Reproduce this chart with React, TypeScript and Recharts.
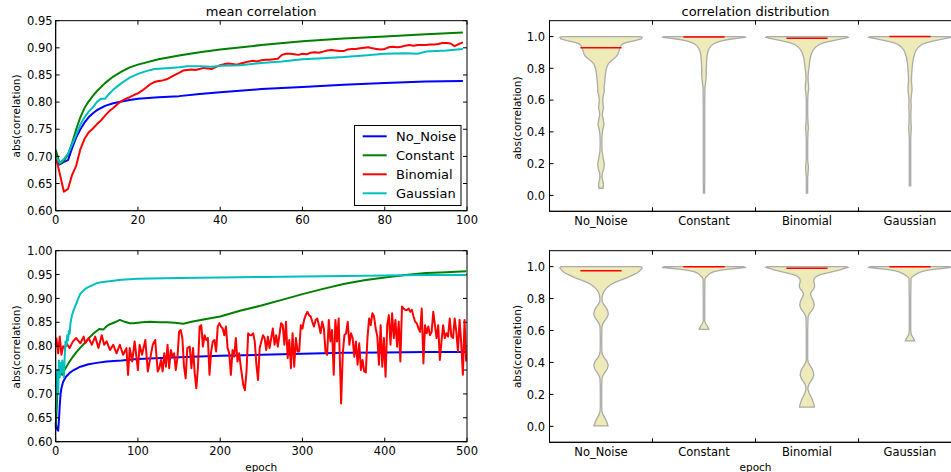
import React from 'react';
import { LineChart, Line, XAxis, YAxis, ScatterChart, Scatter } from 'recharts';

const FONT = '"DejaVu Sans", "Liberation Sans", sans-serif';

type P = [number, number];

const categories = ['No_Noise', 'Constant', 'Binomial', 'Gaussian'];
const colors = ['#0000ff', '#008000', '#ff0000', '#00bfbf'];

const topEpochTicks = [0, 20, 40, 60, 80, 100];
const topCorrTicks = [0.6, 0.65, 0.7, 0.75, 0.8, 0.85, 0.9, 0.95];
const botEpochTicks = [0, 100, 200, 300, 400, 500];
const botCorrTicks = [0.6, 0.65, 0.7, 0.75, 0.8, 0.85, 0.9, 0.95, 1.0];
const violinTicks = [0, 0.2, 0.4, 0.6, 0.8, 1.0];
const violinCatTicks = [1, 1.5, 2, 2.5, 3, 3.5, 4];
const violinMidTicks = [1.5, 2.5, 3.5];

// ---------- top-left: mean correlation, 100 epochs ----------
const topNoNoise: P[] = [[0,0.695],[1,0.685],[2,0.690],[3,0.693],[4,0.715],[5,0.735],[6,0.75],[7,0.762],[8,0.772],[9,0.779],[10,0.785],[12,0.793],[14,0.798],[16,0.801],[18,0.804],[20,0.806],[25,0.809],[30,0.811],[35,0.815],[40,0.818],[50,0.824],[60,0.828],[70,0.832],[80,0.835],[90,0.838],[99,0.839]];
const topConstant: P[] = [[0,0.712],[1,0.686],[2,0.692],[3,0.703],[4,0.725],[5,0.75],[6,0.772],[7,0.789],[8,0.801],[9,0.811],[10,0.82],[12,0.835],[14,0.847],[16,0.856],[18,0.864],[20,0.869],[25,0.879],[30,0.886],[35,0.892],[40,0.897],[50,0.905],[60,0.912],[70,0.917],[80,0.921],[90,0.925],[99,0.928]];
const topBinomial: P[] = [[0,0.70],[1,0.668],[2,0.635],[3,0.64],[4,0.666],[5,0.683],[6,0.713],[7,0.732],[8,0.744],[9,0.751],[10,0.759],[11,0.766],[12,0.775],[13,0.783],[14,0.789],[15,0.796],[16,0.802],[17,0.806],[18,0.809],[19,0.813],[20,0.816],[21,0.821],[22,0.827],[23,0.833],[24,0.837],[25,0.839],[26,0.84],[27,0.842],[28,0.846],[29,0.850],[30,0.854],[31,0.858],[32,0.859],[33,0.860],[34,0.859],[35,0.861],[36,0.863],[37,0.862],[38,0.861],[39,0.865],[40,0.868],[41,0.870],[42,0.871],[43,0.870],[44,0.869],[45,0.871],[46,0.873],[47,0.875],[48,0.876],[49,0.875],[50,0.877],[51,0.878],[52,0.878],[53,0.879],[54,0.880],[55,0.887],[56,0.889],[57,0.889],[58,0.888],[59,0.887],[60,0.889],[61,0.888],[62,0.891],[63,0.892],[64,0.891],[65,0.893],[66,0.895],[67,0.896],[68,0.895],[69,0.894],[70,0.894],[71,0.897],[72,0.898],[73,0.898],[74,0.899],[75,0.900],[76,0.901],[77,0.899],[78,0.898],[79,0.897],[80,0.898],[81,0.901],[82,0.902],[83,0.901],[84,0.902],[85,0.904],[86,0.905],[87,0.904],[88,0.905],[89,0.905],[90,0.905],[91,0.906],[92,0.906],[93,0.907],[94,0.909],[95,0.909],[96,0.908],[97,0.903],[98,0.907],[99,0.910]];
const topGaussian: P[] = [[0,0.70],[1,0.688],[2,0.695],[3,0.705],[4,0.722],[5,0.74],[6,0.758],[7,0.772],[8,0.782],[9,0.79],[10,0.80],[11,0.806],[12,0.806],[13,0.815],[14,0.823],[16,0.835],[18,0.845],[20,0.852],[22,0.857],[24,0.861],[26,0.862],[28,0.863],[30,0.864],[32,0.866],[35,0.866],[38,0.865],[40,0.867],[45,0.868],[50,0.872],[55,0.875],[60,0.879],[65,0.881],[70,0.883],[75,0.886],[80,0.889],[85,0.890],[88,0.889],[90,0.893],[95,0.895],[99,0.898]];

// ---------- bottom-left: 500 epochs ----------
const botNoNoise: P[] = [[0,0.64],[1,0.63],[2,0.625],[3,0.623],[4,0.645],[5,0.677],[6,0.70],[7,0.712],[9,0.725],[12,0.735],[17,0.744],[22,0.75],[30,0.757],[40,0.762],[50,0.765],[62,0.768],[80,0.770],[100,0.773],[150,0.777],[200,0.780],[250,0.782],[300,0.784],[350,0.786],[400,0.787],[450,0.788],[499,0.788]];
const botConstant: P[] = [[0,0.63],[1,0.66],[2,0.70],[3,0.735],[4,0.75],[5,0.74],[6,0.745],[8,0.74],[10,0.748],[13,0.757],[17,0.768],[21,0.778],[25,0.787],[30,0.797],[35,0.806],[41,0.818],[47,0.828],[53,0.836],[58,0.835],[62,0.842],[66,0.846],[72,0.85],[78,0.855],[84,0.851],[90,0.848],[95,0.848],[105,0.85],[115,0.851],[125,0.85],[135,0.85],[145,0.849],[155,0.847],[165,0.851],[183,0.857],[200,0.862],[224,0.874],[250,0.885],[275,0.897],[300,0.909],[325,0.92],[350,0.93],[375,0.938],[400,0.944],[425,0.949],[450,0.953],[475,0.955],[499,0.957]];
const botGaussian: P[] = [[0,0.66],[1,0.72],[2,0.75],[3,0.70],[4,0.77],[5,0.735],[6,0.765],[7,0.745],[8,0.77],[9,0.755],[10,0.735],[11,0.78],[12,0.81],[13,0.80],[14,0.823],[15,0.812],[16,0.832],[17,0.826],[18,0.848],[19,0.858],[20,0.866],[22,0.876],[24,0.885],[26,0.893],[28,0.902],[30,0.91],[33,0.915],[36,0.92],[40,0.924],[45,0.928],[50,0.932],[55,0.934],[60,0.935],[70,0.937],[80,0.939],[90,0.940],[100,0.941],[150,0.943],[200,0.944],[250,0.945],[300,0.946],[350,0.947],[400,0.948],[450,0.949],[499,0.949]];
const botBinomial: P[] = [[0,0.802],[1,0.816],[3,0.785],[5,0.820],[7,0.782],[9,0.80],[11,0.796],[13,0.806],[17,0.796],[21,0.810],[25,0.817],[30,0.806],[34,0.820],[36,0.806],[40,0.817],[44,0.803],[48,0.820],[52,0.796],[56,0.823],[59,0.803],[62,0.810],[66,0.792],[70,0.803],[74,0.785],[78,0.803],[82,0.782],[86,0.796],[88,0.740],[90,0.796],[93,0.768],[96,0.810],[100,0.750],[102,0.803],[105,0.782],[109,0.813],[112,0.747],[115,0.775],[118,0.803],[121,0.813],[124,0.747],[126,0.754],[128,0.771],[130,0.747],[132,0.785],[134,0.757],[136,0.803],[138,0.754],[140,0.792],[142,0.778],[144,0.785],[146,0.750],[148,0.775],[150,0.830],[152,0.834],[154,0.817],[156,0.757],[158,0.733],[160,0.796],[163,0.799],[165,0.754],[167,0.796],[169,0.743],[171,0.712],[173,0.757],[175,0.841],[177,0.844],[179,0.799],[181,0.823],[183,0.813],[185,0.817],[187,0.740],[189,0.789],[191,0.810],[193,0.813],[195,0.789],[197,0.841],[199,0.848],[201,0.841],[203,0.837],[205,0.823],[207,0.841],[209,0.796],[211,0.785],[213,0.740],[215,0.792],[217,0.778],[219,0.817],[221,0.768],[223,0.785],[225,0.757],[228,0.719],[230,0.708],[232,0.747],[234,0.827],[236,0.823],[238,0.823],[240,0.827],[242,0.810],[244,0.761],[246,0.729],[248,0.796],[250,0.810],[252,0.823],[254,0.817],[256,0.792],[258,0.820],[260,0.796],[262,0.817],[264,0.837],[266,0.803],[268,0.823],[270,0.799],[272,0.823],[274,0.848],[276,0.844],[278,0.803],[280,0.851],[282,0.775],[284,0.813],[286,0.754],[288,0.827],[290,0.757],[292,0.817],[294,0.789],[296,0.789],[298,0.844],[300,0.837],[302,0.855],[304,0.865],[306,0.872],[308,0.865],[310,0.862],[312,0.851],[314,0.841],[316,0.855],[318,0.858],[320,0.844],[322,0.827],[324,0.851],[326,0.837],[328,0.789],[330,0.782],[332,0.855],[334,0.810],[336,0.834],[338,0.740],[340,0.855],[342,0.810],[344,0.858],[347,0.680],[349,0.785],[351,0.823],[353,0.827],[355,0.851],[357,0.803],[359,0.827],[361,0.817],[363,0.778],[365,0.810],[367,0.761],[369,0.806],[371,0.750],[373,0.771],[375,0.747],[377,0.745],[379,0.817],[381,0.858],[383,0.844],[385,0.869],[387,0.862],[389,0.837],[391,0.820],[393,0.761],[395,0.844],[397,0.757],[399,0.817],[401,0.736],[403,0.844],[405,0.865],[407,0.803],[409,0.869],[411,0.817],[413,0.855],[415,0.799],[417,0.851],[419,0.768],[421,0.883],[423,0.879],[425,0.876],[427,0.876],[429,0.879],[431,0.872],[433,0.876],[435,0.862],[437,0.851],[439,0.848],[441,0.837],[443,0.830],[445,0.879],[447,0.764],[449,0.844],[451,0.827],[453,0.841],[455,0.823],[457,0.830],[459,0.872],[461,0.844],[463,0.817],[465,0.844],[467,0.771],[469,0.810],[471,0.844],[473,0.817],[475,0.827],[477,0.820],[479,0.858],[481,0.820],[483,0.817],[485,0.858],[487,0.830],[489,0.789],[491,0.855],[493,0.806],[495,0.740],[497,0.855],[499,0.768]];

const topSeries = [topNoNoise, topConstant, topBinomial, topGaussian];
const botSeries = [botNoNoise, botConstant, botBinomial, botGaussian];

// ---------- violins: [value, half width in category units] ----------
const topViolinNoNoise: P[] = [[1.0,0.38],[0.995,0.40],[0.985,0.39],[0.975,0.33],[0.965,0.26],[0.955,0.215],[0.945,0.195],[0.93,0.185],[0.91,0.175],[0.89,0.165],[0.875,0.15],[0.86,0.125],[0.845,0.095],[0.83,0.072],[0.81,0.058],[0.79,0.05],[0.76,0.043],[0.73,0.038],[0.70,0.034],[0.675,0.03],[0.655,0.032],[0.63,0.022],[0.60,0.017],[0.575,0.02],[0.55,0.024],[0.525,0.015],[0.505,0.013],[0.475,0.022],[0.445,0.03],[0.415,0.017],[0.38,0.01],[0.33,0.008],[0.28,0.01],[0.24,0.02],[0.2,0.032],[0.17,0.028],[0.14,0.013],[0.115,0.01],[0.09,0.018],[0.065,0.024],[0.045,0.02]];
const topViolinConstant: P[] = [[1.0,0.39],[0.995,0.40],[0.99,0.34],[0.983,0.25],[0.975,0.18],[0.965,0.13],[0.955,0.095],[0.94,0.065],[0.925,0.05],[0.905,0.038],[0.88,0.03],[0.85,0.026],[0.82,0.024],[0.79,0.022],[0.76,0.022],[0.73,0.019],[0.705,0.015],[0.68,0.01],[0.65,0.008],[0.5,0.007],[0.3,0.007],[0.1,0.007],[0.015,0.006]];
const topViolinBinomial: P[] = [[1.0,0.39],[0.995,0.40],[0.99,0.37],[0.98,0.30],[0.97,0.22],[0.96,0.16],[0.95,0.12],[0.935,0.085],[0.915,0.06],[0.895,0.045],[0.87,0.033],[0.84,0.025],[0.81,0.02],[0.78,0.014],[0.75,0.01],[0.72,0.011],[0.69,0.016],[0.665,0.016],[0.64,0.01],[0.6,0.007],[0.5,0.007],[0.45,0.01],[0.425,0.014],[0.4,0.01],[0.35,0.007],[0.22,0.007],[0.19,0.012],[0.17,0.014],[0.15,0.011],[0.12,0.007],[0.015,0.006]];
const topViolinGaussian: P[] = [[1.0,0.39],[0.995,0.40],[0.99,0.36],[0.98,0.29],[0.97,0.21],[0.96,0.155],[0.95,0.115],[0.935,0.085],[0.915,0.06],[0.895,0.047],[0.87,0.035],[0.84,0.027],[0.81,0.022],[0.78,0.018],[0.75,0.015],[0.72,0.014],[0.69,0.018],[0.665,0.02],[0.64,0.016],[0.61,0.01],[0.58,0.01],[0.56,0.012],[0.54,0.01],[0.5,0.008],[0.45,0.01],[0.425,0.013],[0.4,0.01],[0.36,0.007],[0.2,0.007],[0.06,0.007]];
const botViolinNoNoise: P[] = [[1.0,0.39],[0.992,0.40],[0.985,0.39],[0.975,0.38],[0.96,0.35],[0.945,0.30],[0.93,0.25],[0.915,0.19],[0.9,0.13],[0.885,0.09],[0.87,0.06],[0.855,0.04],[0.84,0.025],[0.82,0.014],[0.8,0.01],[0.78,0.012],[0.765,0.025],[0.745,0.048],[0.725,0.064],[0.704,0.071],[0.685,0.062],[0.665,0.04],[0.645,0.02],[0.625,0.009],[0.55,0.007],[0.47,0.008],[0.45,0.014],[0.43,0.03],[0.41,0.055],[0.385,0.07],[0.36,0.062],[0.34,0.04],[0.32,0.02],[0.30,0.01],[0.25,0.007],[0.12,0.007],[0.09,0.01],[0.07,0.022],[0.05,0.04],[0.03,0.055],[0.01,0.065],[0.003,0.068]];
const botViolinConstant: P[] = [[1.0,0.39],[0.995,0.40],[0.99,0.33],[0.983,0.22],[0.975,0.14],[0.967,0.09],[0.958,0.06],[0.95,0.045],[0.94,0.028],[0.93,0.014],[0.92,0.009],[0.8,0.007],[0.7,0.007],[0.66,0.008],[0.645,0.015],[0.63,0.03],[0.615,0.042],[0.607,0.046]];
const botViolinBinomial: P[] = [[1.0,0.39],[0.995,0.40],[0.99,0.37],[0.98,0.32],[0.97,0.26],[0.96,0.19],[0.95,0.13],[0.94,0.095],[0.925,0.07],[0.91,0.065],[0.89,0.072],[0.875,0.074],[0.86,0.065],[0.845,0.045],[0.83,0.034],[0.815,0.04],[0.8,0.052],[0.78,0.065],[0.757,0.07],[0.735,0.058],[0.715,0.035],[0.7,0.018],[0.685,0.01],[0.6,0.007],[0.42,0.007],[0.40,0.012],[0.38,0.03],[0.36,0.05],[0.34,0.062],[0.32,0.066],[0.30,0.055],[0.28,0.035],[0.265,0.02],[0.245,0.01],[0.23,0.01],[0.21,0.02],[0.19,0.035],[0.17,0.05],[0.15,0.062],[0.13,0.07],[0.12,0.072]];
const botViolinGaussian: P[] = [[1.0,0.39],[0.995,0.40],[0.99,0.33],[0.983,0.23],[0.975,0.15],[0.965,0.1],[0.955,0.065],[0.945,0.04],[0.935,0.02],[0.925,0.01],[0.8,0.007],[0.6,0.007],[0.575,0.012],[0.56,0.025],[0.545,0.04],[0.535,0.046]];

const topViolins = [topViolinNoNoise, topViolinConstant, topViolinBinomial, topViolinGaussian];
const botViolins = [botViolinNoNoise, botViolinConstant, botViolinBinomial, botViolinGaussian];
const topMedians = [0.93, 0.997, 0.99, 1.0];
const botMedians = [0.975, 1.0, 0.99, 1.0];
const medianHalfWidth = 0.2;

const pts = (a: P[]) => a.map(([x, y]) => ({ x, y }));

const violinPolygon = (profile: P[], center: number) => {
  const right = profile.map(([y, w]) => ({ x: center + w, y }));
  const left = [...profile].reverse().map(([y, w]) => ({ x: center - w, y }));
  return [...right, ...left, right[0]];
};

const FS = 11.5;
const TICK = 4;
const noShape = () => <g />;

// plot-area boxes (layout only)
const BOX = {
  tl: { l: 55.67, t: 20.67, r: 467, b: 210.67 },
  bl: { l: 55.67, t: 250.67, r: 467, b: 441.67 },
  tr: { l: 549.5, t: 20.67, r: 961.5, b: 211.3 },
  br: { l: 549.5, t: 250.67, r: 961.5, b: 442.3 },
};

const makeBottomTick = (fmt: (v: number) => string, showLine: (v: number) => boolean) => (props: any) => {
  const { x, y, payload } = props;
  const v = payload.value;
  const label = fmt(v);
  return (
    <g>
      {showLine(v) && <line x1={x} x2={x} y1={y} y2={y - TICK} stroke="#000" strokeWidth={1} />}
      {label !== '' && (
        <text x={x} y={y + 13.4} textAnchor="middle" style={{ fontSize: FS, fontFamily: FONT }} fill="#000">{label}</text>
      )}
    </g>
  );
};

const makeLeftTick = (fmt: (v: number) => string, gap: number) => (props: any) => {
  const { x, y, payload } = props;
  return (
    <g>
      <line x1={x} x2={x + TICK} y1={y} y2={y} stroke="#000" strokeWidth={1} />
      <text x={x - gap} y={y + 4.2} textAnchor="end" style={{ fontSize: FS, fontFamily: FONT }} fill="#000">{fmt(payload.value)}</text>
    </g>
  );
};

// inward tick marks on the top and right spines, as segments in data coordinates
function spineTicks(xTicks: number[], yTicks: number[], xMin: number, xMax: number, yMin: number, yMax: number, plotW: number, plotH: number) {
  const dy = (TICK / plotH) * (yMax - yMin);
  const dx = (TICK / plotW) * (xMax - xMin);
  const segs: { x: number; y: number }[][] = [];
  xTicks.forEach((t) => segs.push([{ x: t, y: yMax }, { x: t, y: yMax - dy }]));
  yTicks.forEach((t) => segs.push([{ x: xMax, y: t }, { x: xMax - dx, y: t }]));
  return segs;
}

function LinePanel({ top, data, xTicks, xMax, yTicks, yMin, yMax, height, box }: any) {
  const plotTop = box.t - top;
  const plotBottom = box.b - top;
  const segs = spineTicks(xTicks, yTicks, 0, xMax, yMin, yMax, box.r - box.l, box.b - box.t);
  return (
    <div style={{ position: 'absolute', left: 0, top }}>
      <LineChart width={480} height={height} margin={{ top: plotTop, right: 480 - box.r, bottom: 0, left: 0 }}>
        <XAxis xAxisId="b" type="number" dataKey="x" domain={[0, xMax]} ticks={xTicks} interval={0}
          height={height - plotBottom} tickSize={0} tickMargin={0} tickLine={false} stroke="#000"
          tick={makeBottomTick((v) => String(v), () => true)} />
        <YAxis yAxisId="l" type="number" dataKey="y" domain={[yMin, yMax]} ticks={yTicks} interval={0}
          width={box.l} tickSize={0} tickMargin={0} tickLine={false} stroke="#000"
          tick={makeLeftTick((v) => v.toFixed(2), 3)} />
        {segs.map((s, k) => (
          <Line key={'f' + k} xAxisId="b" yAxisId="l" data={s} dataKey="y" type="linear" stroke="#000" strokeWidth={1}
            dot={false} activeDot={false} legendType="none" isAnimationActive={false} />
        ))}
        {data.map((s: P[], i: number) => (
          <Line key={categories[i]} xAxisId="b" yAxisId="l" data={pts(s)} dataKey="y" type="linear"
            stroke={colors[i]} strokeWidth={2} dot={false} isAnimationActive={false} strokeLinejoin="round" />
        ))}
      </LineChart>
    </div>
  );
}

function ViolinPanel({ top, profiles, medians, height, box }: any) {
  const plotTop = box.t - top;
  const plotBottom = box.b - top;
  const segs = spineTicks(violinMidTicks, violinTicks, 0.5, 4.5, -0.1, 1.1, box.r - box.l, box.b - box.t);
  const fmtCat = (v: number) => (Number.isInteger(v) ? categories[v - 1] : '');
  return (
    <div style={{ position: 'absolute', left: 480, top }}>
      <ScatterChart width={520} height={height} margin={{ top: plotTop, right: 520 - (box.r - 480), bottom: 0, left: 0 }}>
        <XAxis xAxisId="b" type="number" dataKey="x" domain={[0.5, 4.5]} ticks={violinCatTicks} interval={0}
          height={height - plotBottom} tickSize={0} tickMargin={0} tickLine={false} stroke="#000"
          tick={makeBottomTick(fmtCat, (v) => !Number.isInteger(v))} />
        <YAxis yAxisId="l" type="number" dataKey="y" domain={[-0.1, 1.1]} ticks={violinTicks} interval={0}
          width={box.l - 480} tickSize={0} tickMargin={0} tickLine={false} stroke="#000"
          tick={makeLeftTick((v) => v.toFixed(1), 4.5)} />
        {segs.map((s, k) => (
          <Scatter key={'f' + k} xAxisId="b" yAxisId="l" data={s} shape={noShape}
            line={{ stroke: '#000', strokeWidth: 1, fill: 'none' }} lineType="joint" legendType="none" isAnimationActive={false} />
        ))}
        {profiles.map((p: P[], i: number) => (
          <Scatter key={'v' + i} xAxisId="b" yAxisId="l" data={violinPolygon(p, i + 1)} shape={noShape}
            line={{ stroke: '#ababab', strokeWidth: 1.3, fill: '#eeebb8' }} lineType="joint" isAnimationActive={false} />
        ))}
        {medians.map((m: number, i: number) => (
          <Scatter key={'m' + i} xAxisId="b" yAxisId="l"
            data={[{ x: i + 1 - medianHalfWidth, y: m }, { x: i + 1 + medianHalfWidth, y: m }]} shape={noShape}
            line={{ stroke: '#ff0000', strokeWidth: 1.5, fill: 'none' }} lineType="joint" isAnimationActive={false} />
        ))}
      </ScatterChart>
    </div>
  );
}

export default function App() {
  const legendY = [136.3, 155.3, 174.3, 193.3];
  const boxes = [BOX.tl, BOX.bl, BOX.tr, BOX.br];
  return (
    <div style={{ position: 'absolute', left: 0, top: 0, width: 951, height: 472, overflow: 'hidden', background: '#fff', fontFamily: FONT }}>
      <LinePanel top={0} data={topSeries} xTicks={topEpochTicks} xMax={100} yTicks={topCorrTicks} yMin={0.6} yMax={0.95}
        height={235} box={BOX.tl} />
      <LinePanel top={235} data={botSeries} xTicks={botEpochTicks} xMax={500} yTicks={botCorrTicks} yMin={0.6} yMax={1.0}
        height={237} box={BOX.bl} />
      <ViolinPanel top={0} profiles={topViolins} medians={topMedians} height={235} box={BOX.tr} />
      <ViolinPanel top={235} profiles={botViolins} medians={botMedians} height={237} box={BOX.br} />
      <svg width={951} height={472} style={{ position: 'absolute', left: 0, top: 0, pointerEvents: 'none' }}>
        {boxes.map((b, i) => (
          <rect key={'box' + i} x={b.l} y={b.t} width={b.r - b.l} height={b.b - b.t} fill="none" stroke="#000" strokeWidth={1} />
        ))}
        <g style={{ fontFamily: FONT }} fill="#000">
          <text x={261.2} y={15.5} textAnchor="middle" fontSize={13}>mean correlation</text>
          <text x={755.5} y={15.5} textAnchor="middle" fontSize={13}>correlation distribution</text>
          <text x={19.5} y={116} textAnchor="middle" fontSize={10.5} transform="rotate(-90 19.5 116)">abs(correlation)</text>
          <text x={19.5} y={347} textAnchor="middle" fontSize={10.5} transform="rotate(-90 19.5 347)">abs(correlation)</text>
          <text x={520.5} y={118} textAnchor="middle" fontSize={10.5} transform="rotate(-90 520.5 118)">abs(correlation)</text>
          <text x={520.5} y={346.5} textAnchor="middle" fontSize={10.5} transform="rotate(-90 520.5 346.5)">abs(correlation)</text>
          <text x={261.2} y={471} textAnchor="middle" fontSize={10.5}>epoch</text>
          <text x={755.5} y={471} textAnchor="middle" fontSize={10.5}>epoch</text>
        </g>
        <rect x={354.5} y={125.5} width={106.5} height={80} fill="#fff" stroke="#000" strokeWidth={1} />
        {categories.map((c, i) => (
          <g key={c}>
            <line x1={362.7} x2={386.7} y1={legendY[i]} y2={legendY[i]} stroke={colors[i]} strokeWidth={2} />
            <text x={396} y={legendY[i] + 4.6} fontSize={13} style={{ fontFamily: FONT }} fill="#000">{c}</text>
          </g>
        ))}
      </svg>
    </div>
  );
}
